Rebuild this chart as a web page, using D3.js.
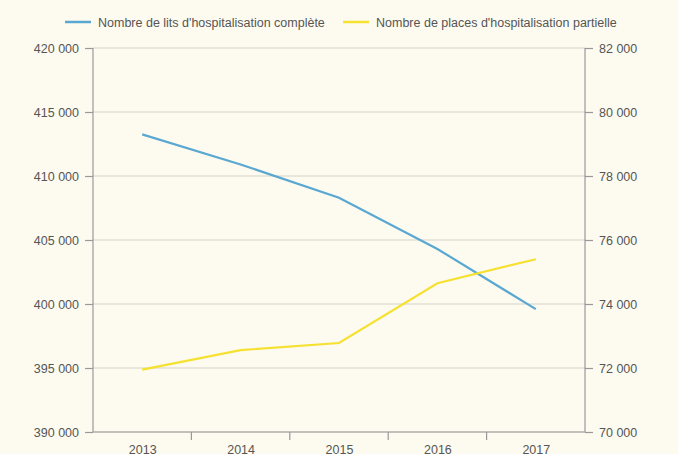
<!DOCTYPE html><html><head><meta charset="utf-8"><script src="https://cdn.jsdelivr.net/npm/d3@7"></script>
<style>body{margin:0;background:#fdfbf0}text{font-family:"Liberation Sans Narrow","Liberation Sans",Arial,sans-serif;fill:#555}</style></head><body>
<svg id="c" width="678" height="454"></svg>
<script>
const years=["2013","2014","2015","2016","2017"];
const lits=[413250,410900,408300,404300,399600];
const places=[71950,72560,72780,74650,75400];
const leftTicks=[390000,395000,400000,405000,410000,415000,420000];
const rightTicks=[70000,72000,74000,76000,78000,80000,82000];
const L=93,R=585,T=48,B=432;
const svg=d3.select("#c");
svg.append("rect").attr("width",678).attr("height",454).attr("fill","#fdfbf0");
const x=d3.scalePoint().domain(years).range([L,R]).padding(0.5);
const yl=d3.scaleLinear().domain([390000,420000]).range([B,T]);
const yr=d3.scaleLinear().domain([70000,82000]).range([B,T]);
const fmt=d=>d3.format(",")(d).replace(/,/g," ");
svg.append("g").selectAll("line").data(leftTicks).join("line").attr("x1",L).attr("x2",R)
 .attr("y1",d=>yl(d)).attr("y2",d=>yl(d)).attr("stroke","#d6d2c6").attr("stroke-width",1.2);
const gl=svg.append("g").attr("transform",`translate(${L},0)`).call(d3.axisLeft(yl).tickValues(leftTicks).tickFormat(fmt).tickSize(8).tickPadding(6));
const gr=svg.append("g").attr("transform",`translate(${R},0)`).call(d3.axisRight(yr).tickValues(rightTicks).tickFormat(fmt).tickSize(8).tickPadding(6));
const gx=svg.append("g").attr("transform",`translate(0,${B})`).call(d3.axisBottom(x).tickSize(0).tickPadding(13));
const step=x.step();
gx.selectAll(".sep").data(years.slice(1)).join("line").attr("class","sep").attr("x1",d=>x(d)-step/2).attr("x2",d=>x(d)-step/2).attr("y1",0).attr("y2",8).attr("stroke","#999");
[gl,gr,gx].forEach(g=>{g.selectAll("path,line").attr("stroke","#999").attr("stroke-width",1.2);g.selectAll("text").attr("font-size",12.5).attr("fill","#555");});
gl.select(".domain").attr("d",`M0,${T}V${B}`);gr.select(".domain").attr("d",`M0,${T}V${B}`);
gx.select(".domain").attr("d",`M${L},0H${R}`);
const line=(s)=>d3.line().x((d,i)=>x(years[i])).y(d=>s(d));
svg.append("path").datum(lits).attr("d",line(yl)).attr("fill","none").attr("stroke","#5aa8d2").attr("stroke-width",2.2);
svg.append("path").datum(places).attr("d",line(yr)).attr("fill","none").attr("stroke","#f6e030").attr("stroke-width",2.2);
const leg=[["Nombre de lits d'hospitalisation complète","#5aa8d2",65],["Nombre de places d'hospitalisation partielle","#f6e030",343]];
leg.forEach(([t,c,lx])=>{svg.append("line").attr("x1",lx).attr("x2",lx+26).attr("y1",22).attr("y2",22).attr("stroke",c).attr("stroke-width",2.5);
 svg.append("text").attr("x",lx+33).attr("y",26.5).attr("font-size",12.5).text(t);});
</script></body></html>
